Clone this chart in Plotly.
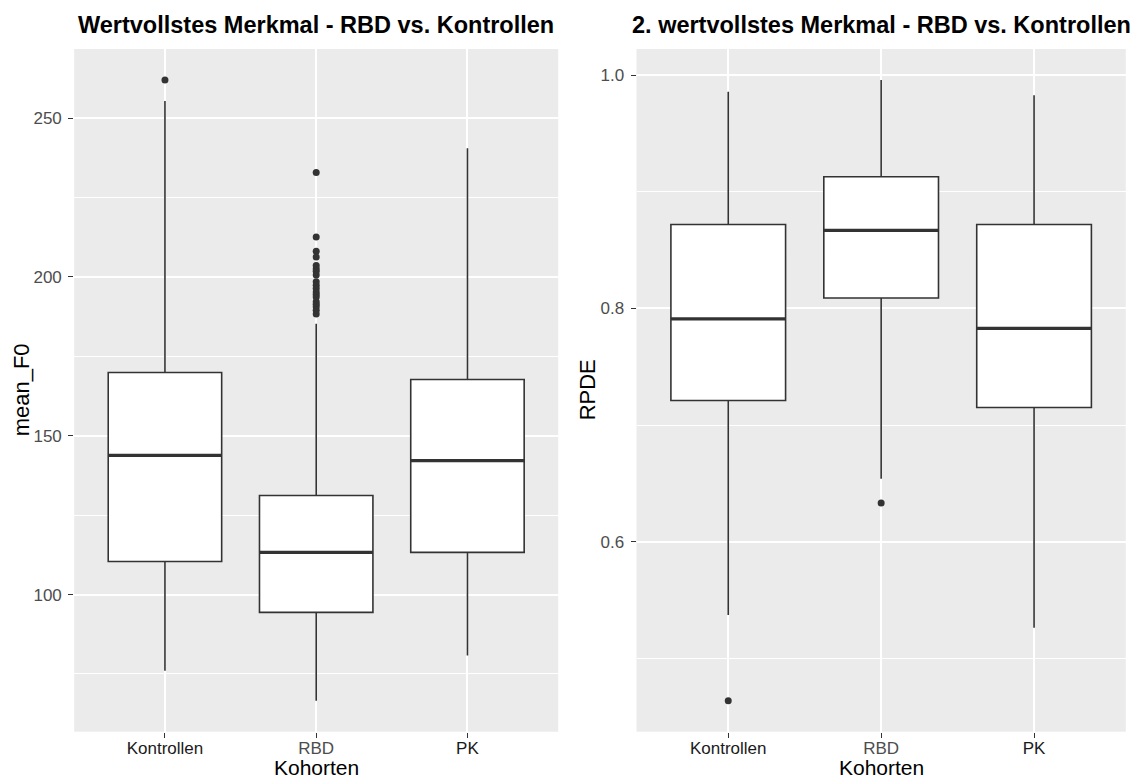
import plotly.graph_objects as go

# ---------------- data ----------------
categories = ["Kontrollen", "RBD", "PK"]

f0_lower = [76.0, 66.6, 80.8]
f0_q1 = [110.4, 94.4, 113.3]
f0_median = [143.8, 113.3, 142.2]
f0_q3 = [169.9, 131.2, 167.7]
f0_upper = [255.4, 185.3, 240.5]
f0_out_kontrollen = [262.0]
f0_out_rbd = [232.9, 212.6, 208.1, 206.3, 203.6, 202.6, 201.8, 200.6, 198.5,
              197.4, 196.4, 195.3, 194.5, 193.7, 192.2, 191.4, 190.6, 189.5, 188.3]
f0_out_pk = []

rpde_lower = [0.537, 0.654, 0.526]
rpde_q1 = [0.721, 0.809, 0.715]
rpde_median = [0.791, 0.867, 0.783]
rpde_q3 = [0.872, 0.913, 0.872]
rpde_upper = [0.986, 0.996, 0.983]
rpde_out_kontrollen = [0.4635]
rpde_out_rbd = [0.633]
rpde_out_pk = []

f0_ticks = [100, 150, 200, 250]
rpde_ticks = [0.6, 0.8, 1.0]

# ---------------- styling ----------------
W, H = 1134, 780
FONT = "Liberation Sans, Arial, Helvetica, sans-serif"
DARK = "#333333"
GREY = "#4D4D4D"
BOXW = 0.75
label_colors = ["#1A1A1A", GREY, "#1A1A1A"]

panel_y = [49, 731.7]
panel1_x = [74.2, 558.2]
panel2_x = [636.5, 1125.8]


def px(x):
    return x / W


def py(y):
    return 1 - y / H


def expand(values):
    lo, hi = min(values), max(values)
    d = hi - lo
    return [lo - 0.05 * d, hi + 0.05 * d]


fig = go.Figure()


def add_panel(xref, yref, lower, q1, med, q3, upper, outliers):
    idx = list(range(len(categories)))
    fig.add_trace(go.Box(
        x=idx, q1=q1, median=med, q3=q3, lowerfence=lower, upperfence=upper,
        width=BOXW, whiskerwidth=0, fillcolor="white",
        line=dict(color=DARK, width=1.6), boxpoints=False,
        xaxis=xref, yaxis=yref, showlegend=False, hoverinfo="skip",
    ))
    mx, my = [], []
    for i, m in zip(idx, med):
        mx += [i - BOXW / 2, i + BOXW / 2, None]
        my += [m, m, None]
    fig.add_trace(go.Scatter(
        x=mx, y=my, mode="lines", line=dict(color=DARK, width=3.2),
        xaxis=xref, yaxis=yref, showlegend=False, hoverinfo="skip",
    ))
    ox, oy = [], []
    for i, pts in zip(idx, outliers):
        ox += [i] * len(pts)
        oy += list(pts)
    fig.add_trace(go.Scatter(
        x=ox, y=oy, mode="markers", marker=dict(color=DARK, size=7),
        xaxis=xref, yaxis=yref, showlegend=False, hoverinfo="skip",
    ))


add_panel("x", "y", f0_lower, f0_q1, f0_median, f0_q3, f0_upper,
          [f0_out_kontrollen, f0_out_rbd, f0_out_pk])
add_panel("x2", "y2", rpde_lower, rpde_q1, rpde_median, rpde_q3, rpde_upper,
          [rpde_out_kontrollen, rpde_out_rbd, rpde_out_pk])

f0_all = f0_lower + f0_upper + f0_out_kontrollen + f0_out_rbd + f0_out_pk
rpde_all = rpde_lower + rpde_upper + rpde_out_kontrollen + rpde_out_rbd + rpde_out_pk

ticktext = [f'<span style="color:{c}">{t}</span>' for t, c in zip(categories, label_colors)]

xaxis_common = dict(
    range=[-0.6, len(categories) - 1 + 0.6],
    tickmode="array", tickvals=list(range(len(categories))), ticktext=ticktext,
    showgrid=True, gridcolor="white", gridwidth=2,
    ticks="outside", ticklen=5, tickwidth=1.2, tickcolor=DARK,
    tickfont=dict(family=FONT, size=17, color=GREY),
    zeroline=False, showline=False, automargin=False, fixedrange=True,
    ticklabelstandoff=-4,
)
yaxis_common = dict(
    tickmode="array",
    showgrid=True, gridcolor="white", gridwidth=2,
    ticks="outside", ticklen=5, tickwidth=1.2, tickcolor=DARK,
    tickfont=dict(family=FONT, size=17, color=GREY),
    zeroline=False, showline=False, automargin=False, fixedrange=True,
    ticklabelstandoff=3,
)

fig.update_layout(
    width=W, height=H,
    margin=dict(l=0, r=0, t=0, b=0),
    paper_bgcolor="white", plot_bgcolor="#EBEBEB",
    showlegend=False,
    xaxis=dict(domain=[px(panel1_x[0]), px(panel1_x[1])], anchor="y", **xaxis_common),
    xaxis2=dict(domain=[px(panel2_x[0]), px(panel2_x[1])], anchor="y2", **xaxis_common),
    yaxis=dict(domain=[py(panel_y[1]), py(panel_y[0])], anchor="x",
               range=expand(f0_all), tickvals=f0_ticks,
               ticktext=[str(t) for t in f0_ticks],
               minor=dict(dtick=25, tick0=0, showgrid=True, gridcolor="white",
                          gridwidth=1, ticks=""),
               **yaxis_common),
    yaxis2=dict(domain=[py(panel_y[1]), py(panel_y[0])], anchor="x2",
                range=expand(rpde_all), tickvals=rpde_ticks,
                ticktext=[f"{t:.1f}" for t in rpde_ticks],
                minor=dict(dtick=0.1, tick0=0, showgrid=True, gridcolor="white",
                           gridwidth=1, ticks=""),
                **yaxis_common),
)

annotations = [
    dict(text="<b>Wertvollstes Merkmal - RBD vs. Kontrollen</b>",
         x=px((panel1_x[0] + panel1_x[1]) / 2), y=py(24.5), xanchor="center", yanchor="middle",
         font=dict(family=FONT, size=23.5, color="black")),
    dict(text="<b>2. wertvollstes Merkmal - RBD vs. Kontrollen</b>",
         x=px((panel2_x[0] + panel2_x[1]) / 2), y=py(24.5), xanchor="center", yanchor="middle",
         font=dict(family=FONT, size=23.5, color="black")),
    dict(text="Kohorten", x=px((panel1_x[0] + panel1_x[1]) / 2), y=0,
         xanchor="center", yanchor="bottom", borderpad=0,
         font=dict(family=FONT, size=21, color="black")),
    dict(text="Kohorten", x=px((panel2_x[0] + panel2_x[1]) / 2), y=0,
         xanchor="center", yanchor="bottom", borderpad=0,
         font=dict(family=FONT, size=21, color="black")),
    dict(text="mean_F0", x=px(21), y=py((panel_y[0] + panel_y[1]) / 2), textangle=-90,
         xanchor="center", yanchor="middle", font=dict(family=FONT, size=22, color="black")),
    dict(text="RPDE", x=px(587), y=py((panel_y[0] + panel_y[1]) / 2), textangle=-90,
         xanchor="center", yanchor="middle", font=dict(family=FONT, size=22, color="black")),
]
for a in annotations:
    a.update(xref="paper", yref="paper", showarrow=False)
fig.update_layout(annotations=annotations)

fig.write_html("out.html", config={"displayModeBar": False})
